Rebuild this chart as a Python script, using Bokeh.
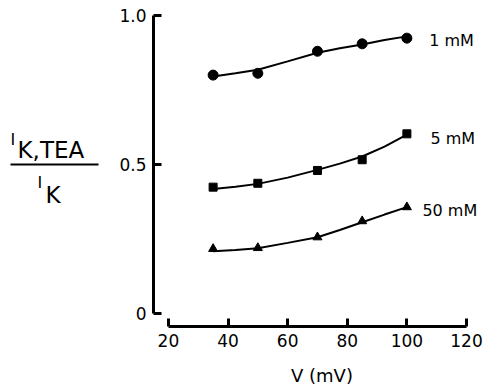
from bokeh.plotting import figure
from bokeh.layouts import row
from bokeh.models import Range1d, FixedTicker, Label
from bokeh.core.properties import value
from bokeh.embed import file_html
from bokeh.resources import INLINE

# measured points
voltage = [35, 50, 70, 85, 100]
ratio_1mM = [0.80, 0.806, 0.88, 0.905, 0.924]
ratio_5mM = [0.424, 0.437, 0.48, 0.516, 0.603]
ratio_50mM = [0.217, 0.22, 0.256, 0.31, 0.357]

# hand-drawn fitted curves
fit_voltage = [35, 42.5, 50, 60, 70, 77.5, 85, 92.5, 100]
fit_1mM = [0.795, 0.806, 0.818, 0.846, 0.875, 0.89, 0.903, 0.918, 0.93]
fit_5mM = [0.418, 0.425, 0.435, 0.456, 0.482, 0.503, 0.527, 0.56, 0.60]
fit_50mM = [0.209, 0.213, 0.219, 0.237, 0.256, 0.28, 0.306, 0.332, 0.357]

x_ticks = [20, 40, 60, 80, 100, 120]
y_ticks = [0, 0.5, 1.0]
y_tick_labels = ["0", "0.5", "1.0"]
series_labels = ["1 mM", "5 mM", "50 mM"]

FONT = "DejaVu Sans"
H = 389
TOP, BOTTOM = 10, 63

# ---------------- main plot ----------------
p = figure(width=380, height=H, output_backend="svg", toolbar_location=None,
           x_range=Range1d(15, 128.05), y_range=Range1d(-0.0436, 1.0168),
           min_border_left=43, min_border_right=0, min_border_top=TOP,
           min_border_bottom=BOTTOM)
p.outline_line_color = None
p.xgrid.grid_line_color = None
p.ygrid.grid_line_color = None
p.background_fill_color = "white"
p.border_fill_color = "white"

for ax in (p.xaxis[0], p.yaxis[0]):
    ax.axis_line_width = 3
    ax.axis_line_color = "black"
    ax.major_tick_line_width = 3
    ax.major_tick_line_color = "black"
    ax.major_tick_in = 8
    ax.major_tick_out = 0
    ax.minor_tick_line_color = None
    ax.major_label_text_font = FONT
    ax.major_label_text_font_size = "17px"
    ax.major_label_text_color = "black"

p.xaxis.bounds = (x_ticks[0], x_ticks[-1])
p.xaxis.ticker = FixedTicker(ticks=x_ticks)
p.xaxis.major_label_standoff = 7
p.xaxis.axis_label = "V (mV)"
p.xaxis.axis_label_text_font = FONT
p.xaxis.axis_label_text_font_style = "normal"
p.xaxis.axis_label_text_font_size = "18px"
p.xaxis.axis_label_text_color = "black"
p.xaxis.axis_label_standoff = 15

p.yaxis.bounds = (y_ticks[0], y_ticks[-1])
p.yaxis.ticker = FixedTicker(ticks=y_ticks)
p.yaxis.major_label_overrides = {t: s for t, s in zip(y_ticks, y_tick_labels)}
p.yaxis.major_label_standoff = 7

for fit in (fit_1mM, fit_5mM, fit_50mM):
    p.line(fit_voltage, fit, line_color="black", line_width=2)

p.scatter(voltage, ratio_1mM, marker="circle", size=10, color="black")
p.scatter(voltage, ratio_5mM, marker="square", size=8, color="black")
p.scatter(voltage, ratio_50mM, marker="triangle", size=9, color="black")

for (lx, ly), txt in zip([(107.5, 0.916), (107.9, 0.587), (105.2, 0.346)], series_labels):
    p.add_layout(Label(x=lx, y=ly, text=txt, text_font=FONT, text_font_size="16px",
                       text_baseline="middle", text_align="left", text_color="black"))

# ---------------- y-axis label panel: I_K,TEA / I_K ----------------
# its frame is aligned with the main frame (page rows TOP .. H-BOTTOM)
q = figure(width=110, height=H, output_backend="svg", toolbar_location=None,
           x_range=Range1d(0, 110), y_range=Range1d(H - BOTTOM, TOP),
           min_border_left=0, min_border_right=0, min_border_top=TOP,
           min_border_bottom=BOTTOM, x_axis_type=None, y_axis_type=None)
q.outline_line_color = None
q.xgrid.grid_line_color = None
q.ygrid.grid_line_color = None
q.background_fill_color = "white"
q.border_fill_color = "white"

q.text(x=[10, 37], y=[139, 182], text=["I", "I"], text_font=value(FONT),
       text_font_size="16px", text_baseline="middle", text_align="left", text_color="black")
q.text(x=[17, 45], y=[149, 194], text=["K,TEA", "K"], text_font=value(FONT),
       text_font_size="23px", text_baseline="middle", text_align="left", text_color="black")
q.segment(x0=[10], y0=[164], x1=[98], y1=[164], line_color="black", line_width=2)

layout = row(q, p, spacing=0)
open("out.html", "w").write(file_html(layout, INLINE))
